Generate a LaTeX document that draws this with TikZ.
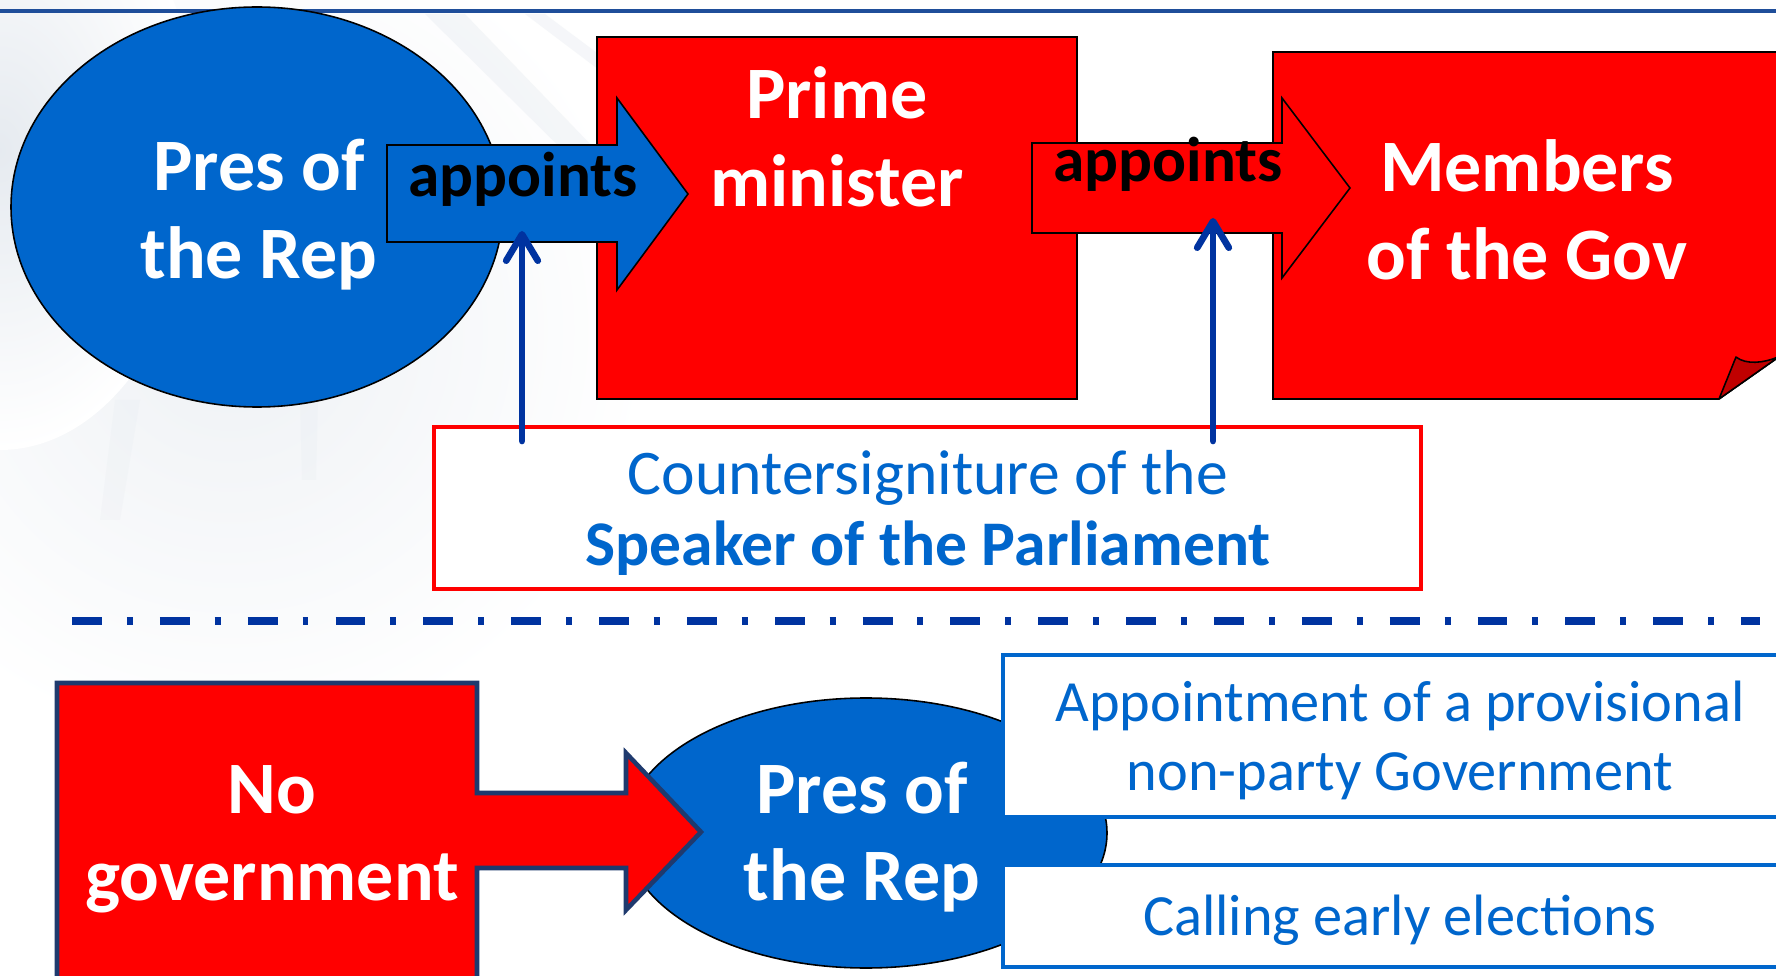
\documentclass[tikz,border=0pt]{standalone}
\usepackage{fontspec}
\setmainfont{Carlito}
\usetikzlibrary{arrows.meta}
\definecolor{pblue}{HTML}{0066CC}
\definecolor{pred}{HTML}{FF0000}
\definecolor{dred}{HTML}{C00000}
\definecolor{navy}{HTML}{0033A0}
\definecolor{bnavy}{HTML}{1F3A6E}
\definecolor{topline}{HTML}{1F4E9A}
\definecolor{bgray}{HTML}{E3E8EE}
\newcommand{\twolines}[2]{\begin{tabular}[t]{@{}c@{}}#1\\#2\end{tabular}}
\begin{document}
\begin{tikzpicture}[x=0.02cm,y=-0.02cm,
  outl/.style={draw=black,line width=0.9pt},
  whitebig/.style={text=white,font=\fontsize{42.1}{50}\selectfont\bfseries,anchor=base,inner sep=0pt},
  apptext/.style={text=black,font=\fontsize{36}{43}\selectfont\bfseries,anchor=base,inner sep=0pt},
  bluetext/.style={text=pblue,font=\fontsize{36.2}{40.4}\selectfont,anchor=base,inner sep=0pt},
  bluetextsm/.style={text=pblue,font=\fontsize{33.2}{39.5}\selectfont,anchor=base,inner sep=0pt},
  uparrow/.style={draw=navy,line width=3.8pt,line cap=round,-{Straight Barb[length=15pt,width=18pt,line cap=round,round]}},
  ray/.style={fill=bgray,opacity=0.35},
]
\useasboundingbox (0,0) rectangle (1776,976);
\clip (0,0) rectangle (1776,976);
% background
\fill[white] (0,0) rectangle (1776,976);
\shade[inner color=bgray!60,outer color=white] (230,330) circle (420);
\shade[inner color=bgray!90,outer color=white] (0,150) ellipse [x radius=200,y radius=300];
\fill[ray] (425,14) -- (465,14) -- (620,175) -- (595,182) -- cycle;
\fill[ray] (525,14) -- (545,14) -- (680,115) -- (668,122) -- cycle;
\fill[ray,opacity=0.2] (115,400) -- (140,400) -- (120,520) -- (100,520) -- cycle;
\fill[ray,opacity=0.2] (300,400) -- (318,400) -- (316,480) -- (302,480) -- cycle;
% top rule
\draw[topline,line width=1.8pt] (0,11) -- (1776,11);
% top ellipse
\path[fill=pblue,outl] (257,207) ellipse [x radius=246,y radius=200];
% prime minister box
\path[fill=pred,outl] (597,37) rectangle (1077,399);
% members of the gov box with curled corner
\path[fill=pred,outl] (1273,52) -- (1800,52) -- (1800,342) -- (1719,399) -- (1273,399) -- cycle;
\path[fill=dred,outl,line join=round] (1719,399) -- (1736,357) .. controls (1746,365) and (1764,363) .. (1778,357) -- (1800,342) -- cycle;
% block arrows
\path[fill=pblue,outl] (387,145) -- (617,145) -- (617,98) -- (688,194) -- (617,290) -- (617,242) -- (387,242) -- cycle;
\path[fill=pred,outl] (1032,143) -- (1282,143) -- (1282,98) -- (1350,188) -- (1282,278) -- (1282,233) -- (1032,233) -- cycle;
% countersignature box
\path[fill=white,draw=pred,line width=2.5pt] (434,427) rectangle (1421,589);
% up arrows
\coordinate (c1s) at (522,441);
\coordinate (c1e) at (522,231);
\coordinate (c2s) at (1213,441);
\coordinate (c2e) at (1213,218);
\draw[uparrow] (c1s) -- (c1e);
\draw[uparrow] (c2s) -- (c2e);
% texts top
\node[whitebig] (pres1) at (259,191) {\twolines{Pres of}{the Rep}};
\node[whitebig] (pm) at (837,119) {\twolines{Prime}{minister}};
\node[whitebig] (mem) at (1527,192) {\twolines{Members}{of the Gov}};
\node[apptext] (app1) at (523,197) {appoints};
\node[apptext] (app2) at (1168,182) {appoints};
\node[bluetext] (cs) at (928,495) {\twolines{Countersigniture of the}{\bfseries Speaker of the Parliament}};
% separator
\draw[navy,line width=4.5pt,dash pattern=on 17pt off 14.2pt on 3.4pt off 15.4pt] (72,621) -- (1760,621);
% bottom
\path[fill=pblue,outl] (866,833) ellipse [x radius=241,y radius=135];
\path[fill=pred,draw=bnavy,line width=2.6pt] (57,683) -- (477,683) -- (477,793) -- (626,793) -- (626,753) -- (701,832) -- (626,910) -- (626,868) -- (477,868) -- (477,1000) -- (57,1000) -- cycle;
\path[fill=white,draw=pblue,line width=2.5pt] (1003,655) rectangle (1800,817);
\path[fill=white,draw=pblue,line width=2.5pt] (1003,865) rectangle (1800,967);
\node[whitebig] (nogov) at (272,813) {\twolines{No}{government}};
\node[whitebig] (pres2) at (862,813) {\twolines{Pres of}{the Rep}};
\node[bluetextsm] (prov) at (1400,721) {\twolines{Appointment of a provisional}{non-party Government}};
\node[bluetextsm] (elec) at (1400,935) {Calling early elections};
\end{tikzpicture}
\end{document}
